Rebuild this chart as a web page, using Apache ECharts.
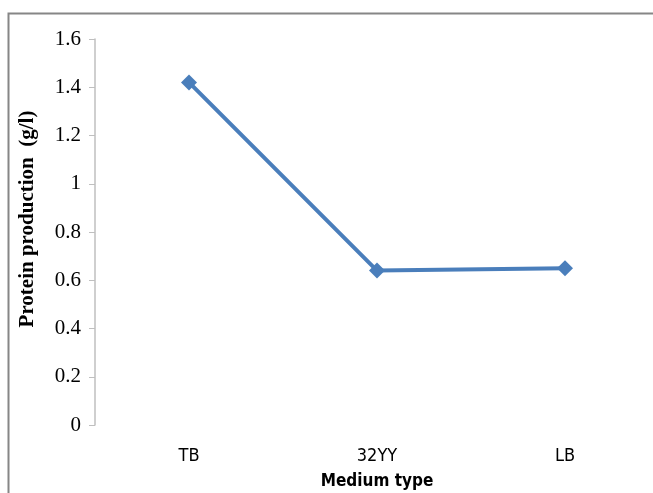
<!DOCTYPE html>
<html>
<head>
<meta charset="utf-8">
<script src="https://cdn.jsdelivr.net/npm/echarts@6/dist/echarts.min.js"></script>
<style>
html,body{margin:0;padding:0;background:#fff;}
#chart{width:653px;height:493px;}
</style>
</head>
<body>
<div id="chart"></div>
<script>
const categories = ['TB', '32YY', 'LB'];
const proteinValues = [1.42, 0.64, 0.65];
const yTickLabels = ['0', '0.2', '0.4', '0.6', '0.8', '1', '1.2', '1.4', '1.6'];

const narrowFont = '"DejaVu Sans Condensed", "Liberation Sans Narrow", "Liberation Sans", sans-serif';
const chart = echarts.init(document.getElementById('chart'), null, {renderer: 'canvas'});
chart.setOption({
  animation: false,
  backgroundColor: '#ffffff',
  graphic: [{
    type: 'rect',
    shape: {x: 8.5, y: 13.5, width: 700, height: 600},
    style: {fill: 'none', stroke: '#868686', lineWidth: 2},
    silent: true
  }],
  grid: {left: 95, top: 39, bottom: 68, width: 564, containLabel: false, outerBoundsMode: 'none'},
  xAxis: {
    type: 'category',
    data: categories,
    boundaryGap: true,
    axisLine: {show: false},
    axisTick: {show: false},
    axisLabel: {margin: 22, color: '#000', fontSize: 18, fontFamily: narrowFont},
    name: 'Medium type',
    nameLocation: 'middle',
    nameGap: 48,
    nameTextStyle: {color: '#000', fontSize: 17, fontWeight: 'bold', fontFamily: narrowFont}
  },
  yAxis: {
    type: 'value',
    min: 0,
    max: 1.6,
    interval: 0.2,
    axisLine: {show: true, lineStyle: {color: '#bfbfbf', width: 1.5}},
    axisTick: {show: true, inside: false, length: 6, lineStyle: {color: '#bfbfbf'}},
    splitLine: {show: false},
    axisLabel: {
      margin: 14, color: '#000', fontSize: 21, fontFamily: '"Liberation Serif", "Times New Roman", serif',
      formatter: function (v) { return yTickLabels[Math.round(v / 0.2)]; }
    },
    name: 'Protein production  (g/l)',
    nameLocation: 'middle',
    nameRotate: 90,
    nameGap: 57,
    nameTextStyle: {color: '#000', fontSize: 21, fontWeight: 'bold', fontFamily: '"Liberation Serif", "Times New Roman", serif', padding: [0, 0, 0, 26]}
  },
  series: [{
    type: 'line',
    data: proteinValues,
    symbol: 'diamond',
    symbolSize: 16,
    lineStyle: {color: '#4a7ebb', width: 4},
    itemStyle: {color: '#4a7ebb'}
  }]
});
</script>
</body>
</html>
